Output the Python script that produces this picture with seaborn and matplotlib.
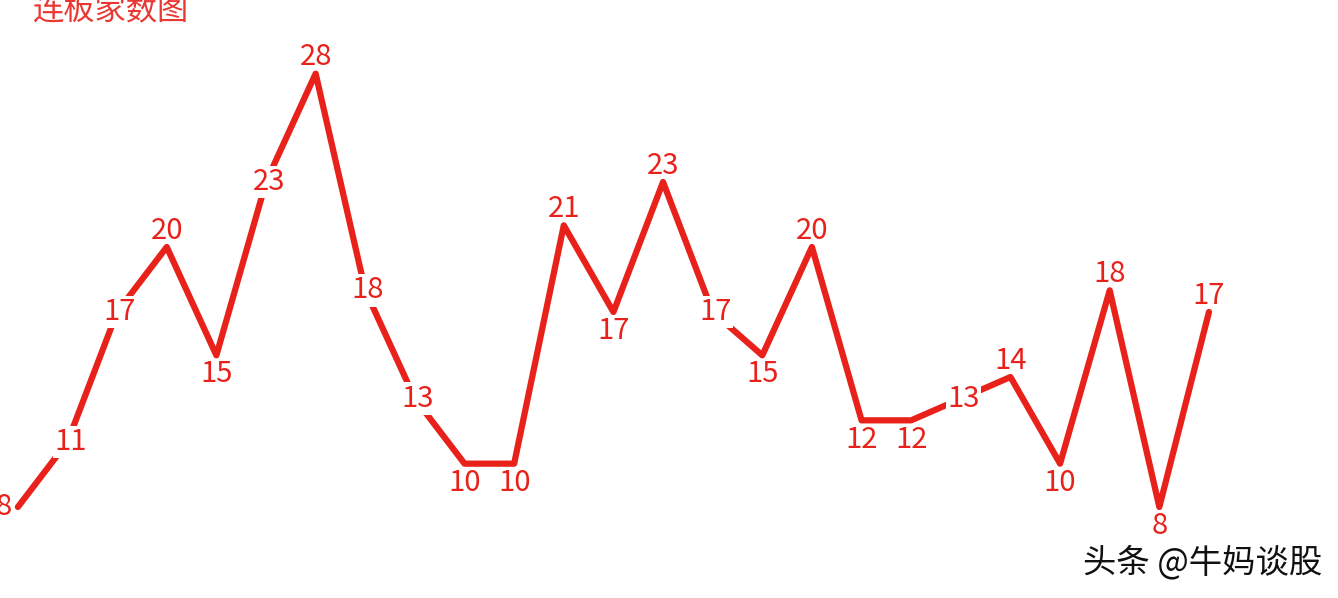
import matplotlib
matplotlib.use("Agg")

import pandas as pd
import matplotlib.pyplot as plt
import seaborn as sns

# dados
dias = list(range(25))
lianban = [8, 11, 17, 20, 15, 23, 28, 18, 13, 10, 10, 21, 17, 23, 17, 15,
           20, 12, 12, 13, 14, 10, 18, 8, 17]
titulo = "连板家数图"
marca = "头条 @牛妈谈股"

VERMELHO = "#e8211b"

sns.set_theme(style="white")
plt.rcParams["font.family"] = ["Noto Sans CJK SC", "DejaVu Sans"]

df = pd.DataFrame({"dia": dias, "qtd": lianban})

fig = plt.figure(figsize=(13.38, 5.98), dpi=100)
ax = fig.add_axes([0, 0, 1, 1])

sns.lineplot(data=df, x="dia", y="qtd", ax=ax, color=VERMELHO,
             linewidth=4.5, solid_capstyle="round", solid_joinstyle="round")

fundo = dict(boxstyle="square,pad=0.05", fc="white", ec="none")

n = len(lianban)
for i, v in enumerate(lianban):
    ant = lianban[i - 1] if i > 0 else None
    prox = lianban[i + 1] if i < n - 1 else None
    pico = (ant is None or v >= ant) and (prox is None or v >= prox)
    vale = (ant is None or v <= ant) and (prox is None or v <= prox)
    caixa = None
    if i == 0:
        dx, dy, ha, va = -4, 0, "right", "center"
    elif vale:
        dx, dy, ha, va = 0, -3, "center", "top"
    elif pico:
        dx, dy, ha, va = 0, 1, "center", "bottom"
    else:
        # no meio da subida/descida o número fica sobre a linha
        dx, dy, ha, va = 2, 0, "center", "center"
        caixa = fundo
    ax.annotate(str(v), (i, v), xytext=(dx, dy), textcoords="offset points",
                ha=ha, va=va, color=VERMELHO, fontsize=21, bbox=caixa)

ax.set_xlim(-0.36, 26.6)
ax.set_ylim(3.8, 31.4)
ax.axis("off")

fig.text(0.024, 1.008, titulo, color=VERMELHO, fontsize=22.5,
         ha="left", va="top", alpha=0.9)
fig.text(0.988, 0.058, marca, color="#111111", fontsize=24,
         ha="right", va="center")

fig.savefig("out.png", dpi=100, facecolor="white")
